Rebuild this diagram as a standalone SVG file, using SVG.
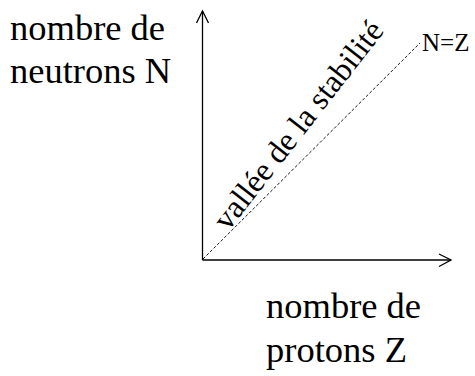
<svg xmlns="http://www.w3.org/2000/svg" width="475" height="376" viewBox="0 0 475 376">
<style>
.ax{stroke:#000;stroke-width:1.3;fill:none}
.lbl{font-size:36.5px}
</style>
<rect width="475" height="376" fill="#fff"/>
<g id="connectors">
<line class="ax" x1="202.5" y1="260" x2="202.5" y2="11"/>
<polyline class="ax" points="196.5,23 202.5,11 208.5,23"/>
<line class="ax" x1="202.5" y1="260" x2="451" y2="260"/>
<polyline class="ax" points="439,254 451,260 439,266.5"/>
<line x1="203" y1="259" x2="420" y2="43" stroke="#000" stroke-width="0.9" stroke-dasharray="3,2" fill="none"/>
</g>
<g id="ylabel"><text class="lbl" x="10" y="40" font-family="Liberation Serif">nombre de</text><text class="lbl" x="10" y="83" font-family="Liberation Serif">neutrons N</text></g>
<g id="xlabel"><text class="lbl" x="266" y="318" font-family="Liberation Serif">nombre de</text><text class="lbl" x="266" y="362" font-family="Liberation Serif">protons Z</text></g>
<g id="nz"><text x="422" y="51" font-family="Liberation Serif" font-size="25">N=Z</text></g>
<g id="vallee"><text transform="translate(228,232) rotate(-52)" font-family="Liberation Serif" font-size="32">vallée de la stabilité</text></g>
</svg>
